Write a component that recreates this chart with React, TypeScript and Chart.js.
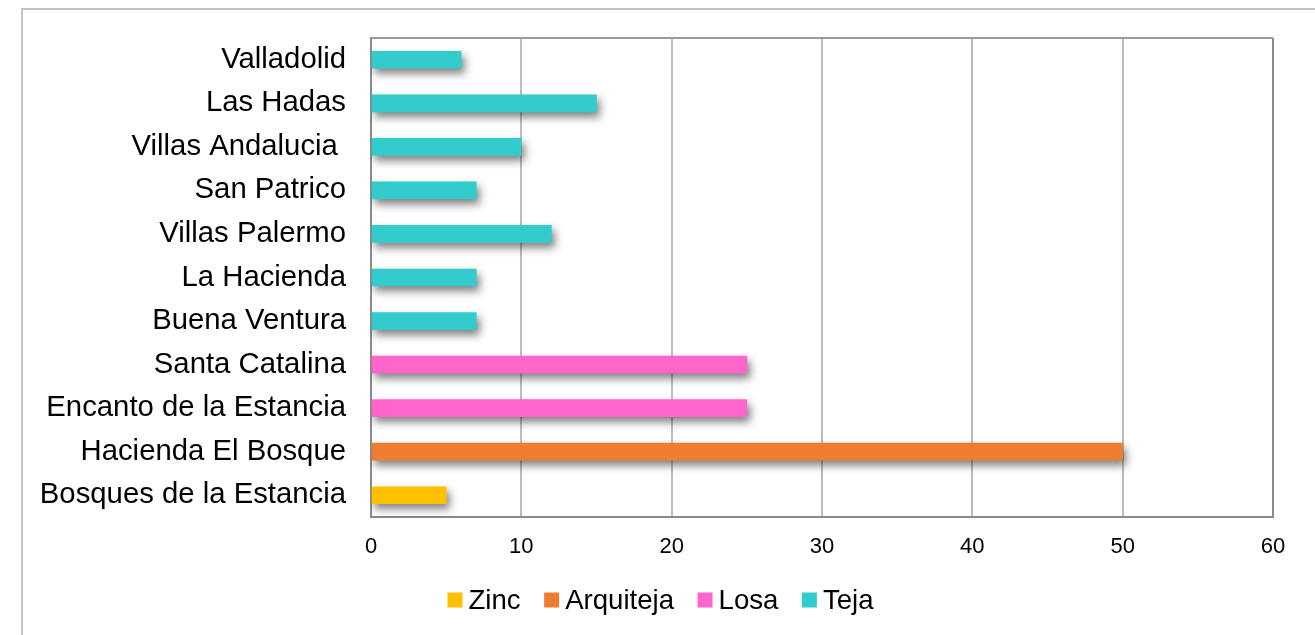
import React, { useEffect, useRef } from "react";
import { Chart, registerables } from "chart.js";

Chart.register(...registerables);

// Neighbourhoods, listed top to bottom
const categories = [
  "Valladolid",
  "Las Hadas",
  "Villas Andalucia ",
  "San Patrico",
  "Villas Palermo",
  "La Hacienda",
  "Buena Ventura",
  "Santa Catalina",
  "Encanto de la Estancia",
  "Hacienda El Bosque",
  "Bosques de la Estancia",
];

// Roof type per neighbourhood (null where the type does not apply)
const zinc = [null, null, null, null, null, null, null, null, null, null, 5];
const arquiteja = [null, null, null, null, null, null, null, null, null, 50, null];
const losa = [null, null, null, null, null, null, null, 25, 25, null, null];
const teja = [6, 15, 10, 7, 12, 7, 7, null, null, null, null];

const xTicks = [0, 10, 20, 30, 40, 50, 60];

const FONT = "'Liberation Sans', Arial, sans-serif";

const framePlugin = {
  id: "frame",
  beforeDraw(chart: any) {
    const ctx = chart.ctx;
    ctx.save();
    ctx.strokeStyle = "#c4c4c4";
    ctx.lineWidth = 2;
    ctx.beginPath();
    ctx.moveTo(22, chart.height);
    ctx.lineTo(22, 9);
    ctx.lineTo(chart.width, 9);
    ctx.stroke();
    ctx.restore();
  },
  afterDraw(chart: any) {
    const { ctx, chartArea } = chart;
    ctx.save();
    ctx.strokeStyle = "#9a9a9a";
    ctx.lineWidth = 2;
    ctx.beginPath();
    ctx.moveTo(chartArea.left, chartArea.top);
    ctx.lineTo(chartArea.right, chartArea.top);
    ctx.stroke();
    ctx.restore();
  },
};

const shadowPlugin = {
  id: "barShadow",
  beforeDatasetsDraw(chart: any) {
    const ctx = chart.ctx;
    ctx.save();
    ctx.shadowColor = "rgba(0,0,0,0.5)";
    ctx.shadowBlur = 9;
    ctx.shadowOffsetX = 3;
    ctx.shadowOffsetY = 5;
  },
  afterDatasetsDraw(chart: any) {
    chart.ctx.restore();
  },
};

// Legend row under the axis: square swatch, short gap, series name
const legendPlugin = {
  id: "bottomLegend",
  afterDraw(chart: any) {
    const ctx = chart.ctx;
    const size = 27.6;
    const box = 15;
    const gap = 6;
    const spacing = 23.5;
    const centerX = 660.5;
    const centerY = 600;
    ctx.save();
    ctx.font = `${size}px ${FONT}`;
    ctx.textBaseline = "middle";
    ctx.textAlign = "left";
    const items = chart.data.datasets.map((ds: any) => ({
      label: ds.label,
      color: ds.backgroundColor,
      w: ctx.measureText(ds.label).width,
    }));
    const total =
      items.reduce((s: number, it: any) => s + box + gap + it.w, 0) + spacing * (items.length - 1);
    let x = centerX - total / 2;
    for (const it of items) {
      ctx.fillStyle = it.color;
      ctx.fillRect(x, centerY - box / 2, box, box);
      ctx.fillStyle = "#000";
      ctx.fillText(it.label, x + box + gap, centerY + 1);
      x += box + gap + it.w + spacing;
    }
    ctx.restore();
  },
};

export default function App() {
  const canvasRef = useRef<HTMLCanvasElement | null>(null);

  useEffect(() => {
    if (!canvasRef.current) return;
    const chart = new Chart(canvasRef.current, {
      type: "bar",
      data: {
        labels: categories,
        datasets: [
          { label: "Zinc", data: zinc, backgroundColor: "#FFC000" },
          { label: "Arquiteja", data: arquiteja, backgroundColor: "#ED7D31" },
          { label: "Losa", data: losa, backgroundColor: "#FF66CC" },
          { label: "Teja", data: teja, backgroundColor: "#33CCCC" },
        ] as any,
      },
      options: {
        indexAxis: "y",
        responsive: false,
        animation: false,
        devicePixelRatio: 1,
        barThickness: 17,
        layout: { padding: { left: 0, right: 42, top: 38, bottom: 68 } },
        scales: {
          x: {
            stacked: true,
            min: 0,
            max: 60,
            afterBuildTicks(scale: any) {
              scale.ticks = xTicks.map((v) => ({ value: v }));
            },
            afterFit(scale: any) {
              scale.height = 50;
            },
            ticks: {
              color: "#000",
              font: { family: FONT, size: 22 },
              padding: 17,
            },
            grid: {
              drawTicks: false,
              lineWidth: 2,
              color: (c: any) => (c.tick && c.tick.value === 60 ? "#8a8a8a" : "#bdbdbd"),
            },
            border: { display: true, color: "#8a8a8a", width: 2 },
          },
          y: {
            stacked: true,
            afterFit(scale: any) {
              scale.width = 371;
              scale.paddingTop = 0;
              scale.paddingBottom = 0;
            },
            ticks: {
              color: "#000",
              font: { family: FONT, size: 29.3 },
              padding: 25,
            },
            grid: { display: false, drawTicks: false },
            border: { display: true, color: "#8a8a8a", width: 2 },
          },
        },
        plugins: {
          legend: { display: false },
          tooltip: { enabled: false },
        },
      } as any,
      plugins: [framePlugin, shadowPlugin, legendPlugin],
    });
    return () => chart.destroy();
  }, []);

  return (
    <div style={{ position: "absolute", left: 0, top: 0, width: 1315, height: 635, background: "#fff" }}>
      <canvas ref={canvasRef} width={1315} height={635} />
    </div>
  );
}
